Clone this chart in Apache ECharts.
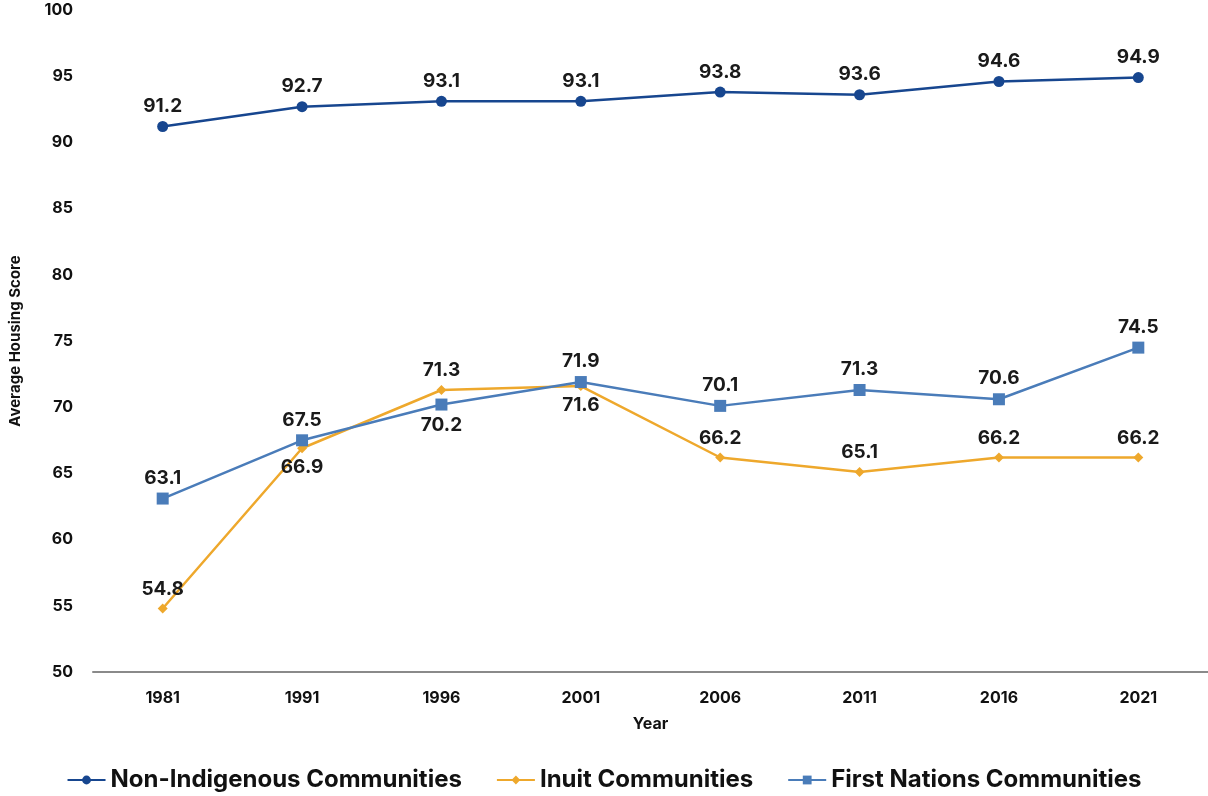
<!DOCTYPE html>
<html>
<head>
<meta charset="utf-8">
<script src="https://cdn.jsdelivr.net/npm/echarts@6/dist/echarts.min.js"></script>
<style>
  html, body { margin: 0; padding: 0; background: #fff; }
  #chart { width: 1208px; height: 796px; }
</style>
</head>
<body>
<div id="chart"></div>
<script>
// Census years and average housing scores by community group
const years = ['1981', '1991', '1996', '2001', '2006', '2011', '2016', '2021'];
const nonIndigenous = [91.2, 92.7, 93.1, 93.1, 93.8, 93.6, 94.6, 94.9];
const inuit = [54.8, 66.9, 71.3, 71.6, 66.2, 65.1, 66.2, 66.2];
const firstNations = [63.1, 67.5, 70.2, 71.9, 70.1, 71.3, 70.6, 74.5];
// label placement per point for the two lower series
const inuitLabelPos = ['top', 'bottom', 'top', 'bottom', 'top', 'top', 'top', 'top'];
const firstNationsLabelPos = ['top', 'top', 'bottom', 'top', 'top', 'top', 'top', 'top'];

const FONT = 'Inter, "Noto Sans", sans-serif';
const labelStyle = { show: true, fontFamily: FONT, fontWeight: 700, fontSize: 19, color: '#1a1a1a', distance: 5 };

function withPositions(values, positions) {
  return values.map((v, i) => ({ value: v, label: { position: positions[i] } }));
}

const chart = echarts.init(document.getElementById('chart'), null, { renderer: 'canvas' });
chart.setOption({
  backgroundColor: '#ffffff',
  animation: false,
  grid: { left: 92, right: 0, top: 10, bottom: 124 },
  legend: {
    bottom: -1,
    left: 'center',
    itemWidth: 38,
    itemHeight: 11,
    itemGap: 34,
    textStyle: { fontFamily: FONT, fontWeight: 700, fontSize: 24, color: '#111' },
    data: ['Non-Indigenous Communities', 'Inuit Communities', 'First Nations Communities']
  },
  xAxis: {
    type: 'category',
    data: years,
    boundaryGap: true,
    name: 'Year',
    nameLocation: 'middle',
    nameGap: 44,
    nameTextStyle: { fontFamily: FONT, fontWeight: 700, fontSize: 16, color: '#111' },
    axisLine: { lineStyle: { color: '#8a8a8a', width: 2 } },
    axisTick: { show: false },
    axisLabel: { fontFamily: FONT, fontWeight: 700, fontSize: 16, color: '#111', margin: 18 }
  },
  yAxis: {
    type: 'value',
    min: 50,
    max: 100,
    interval: 5,
    name: 'Average Housing Score',
    nameLocation: 'middle',
    nameGap: 70,
    nameTextStyle: { fontFamily: FONT, fontWeight: 700, fontSize: 15, color: '#111' },
    axisLine: { show: false },
    axisTick: { show: false },
    splitLine: { show: false },
    axisLabel: { fontFamily: FONT, fontWeight: 700, fontSize: 16, color: '#111', margin: 20 }
  },
  series: [
    {
      name: 'Non-Indigenous Communities',
      type: 'line',
      data: nonIndigenous,
      symbol: 'circle',
      symbolSize: 11,
      color: '#17468f',
      lineStyle: { width: 2.5, color: '#17468f' },
      label: Object.assign({ position: 'top' }, labelStyle),
      z: 3
    },
    {
      name: 'Inuit Communities',
      type: 'line',
      data: withPositions(inuit, inuitLabelPos),
      symbol: 'diamond',
      symbolSize: 10,
      color: '#eea82c',
      lineStyle: { width: 2.5, color: '#eea82c' },
      label: labelStyle,
      z: 2
    },
    {
      name: 'First Nations Communities',
      type: 'line',
      data: withPositions(firstNations, firstNationsLabelPos),
      symbol: 'rect',
      symbolSize: 12,
      color: '#4a7cb9',
      lineStyle: { width: 2.5, color: '#4a7cb9' },
      label: labelStyle,
      z: 3
    }
  ]
});
</script>
</body>
</html>
